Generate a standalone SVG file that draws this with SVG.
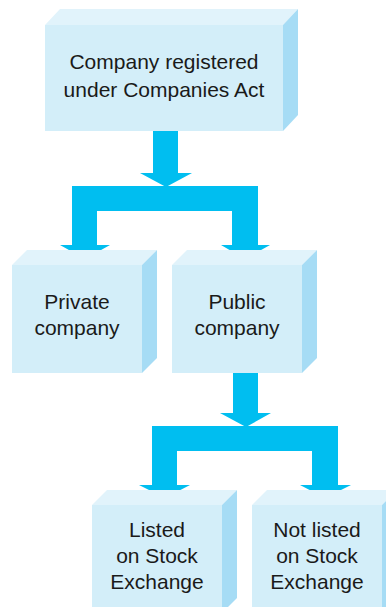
<svg xmlns="http://www.w3.org/2000/svg" width="386" height="607" viewBox="0 0 386 607">
<style>
.front{fill:#d3eef9}
.top{fill:#e1f3fb}
.side{fill:#a6dcf5}
.arrow{fill:#00bef0}
text{font-family:"Liberation Sans",Arial,sans-serif;font-size:21px;fill:#1a1a1a;text-anchor:middle}
</style>
<rect width="386" height="607" fill="#ffffff"/>
<g id="connectors">
  <path class="arrow" d="M153,131 H178 V173 H192 L166,187 L140,173 H153 Z"/>
  <path class="arrow" d="M72,186 H258 V245 H270 L245,259 L221,245 H232 V211 H97 V245 H110 L85,259 L60,245 H72 Z"/>
  <path class="arrow" d="M233,372 H258 V413 H271 L246,427 L220,413 H233 Z"/>
  <path class="arrow" d="M152,426 H338 V485 H351 L325,498 L300,485 H312 V451 H177 V485 H190 L165,498 L139,485 H152 Z"/>
</g>
<g id="node-company">
  <polygon class="top" points="45,25 60,9 298,9 283,25"/>
  <polygon class="side" points="283,25 298,9 298,115 283,131"/>
  <rect class="front" x="45" y="25" width="238" height="106"/>
  <text x="164" y="69">Company registered</text>
  <text x="164" y="97">under Companies Act</text>
</g>
<g id="node-private">
  <polygon class="top" points="12,265 27,250 157,250 142,265"/>
  <polygon class="side" points="142,265 157,250 157,358 142,373"/>
  <rect class="front" x="12" y="265" width="130" height="108"/>
  <text x="77" y="309">Private</text>
  <text x="77" y="335">company</text>
</g>
<g id="node-public">
  <polygon class="top" points="172,265 187,250 317,250 302,265"/>
  <polygon class="side" points="302,265 317,250 317,358 302,373"/>
  <rect class="front" x="172" y="265" width="130" height="108"/>
  <text x="237" y="309">Public</text>
  <text x="237" y="335">company</text>
</g>
<g id="node-listed">
  <polygon class="top" points="92,505 107,490 237,490 222,505"/>
  <polygon class="side" points="222,505 237,490 237,598 222,613"/>
  <rect class="front" x="92" y="505" width="130" height="108"/>
  <text x="157" y="537">Listed</text>
  <text x="157" y="563">on Stock</text>
  <text x="157" y="589">Exchange</text>
</g>
<g id="node-notlisted">
  <polygon class="top" points="252,505 267,490 397,490 382,505"/>
  <polygon class="side" points="382,505 397,490 397,598 382,613"/>
  <rect class="front" x="252" y="505" width="130" height="108"/>
  <text x="317" y="537">Not listed</text>
  <text x="317" y="563">on Stock</text>
  <text x="317" y="589">Exchange</text>
</g>
</svg>
